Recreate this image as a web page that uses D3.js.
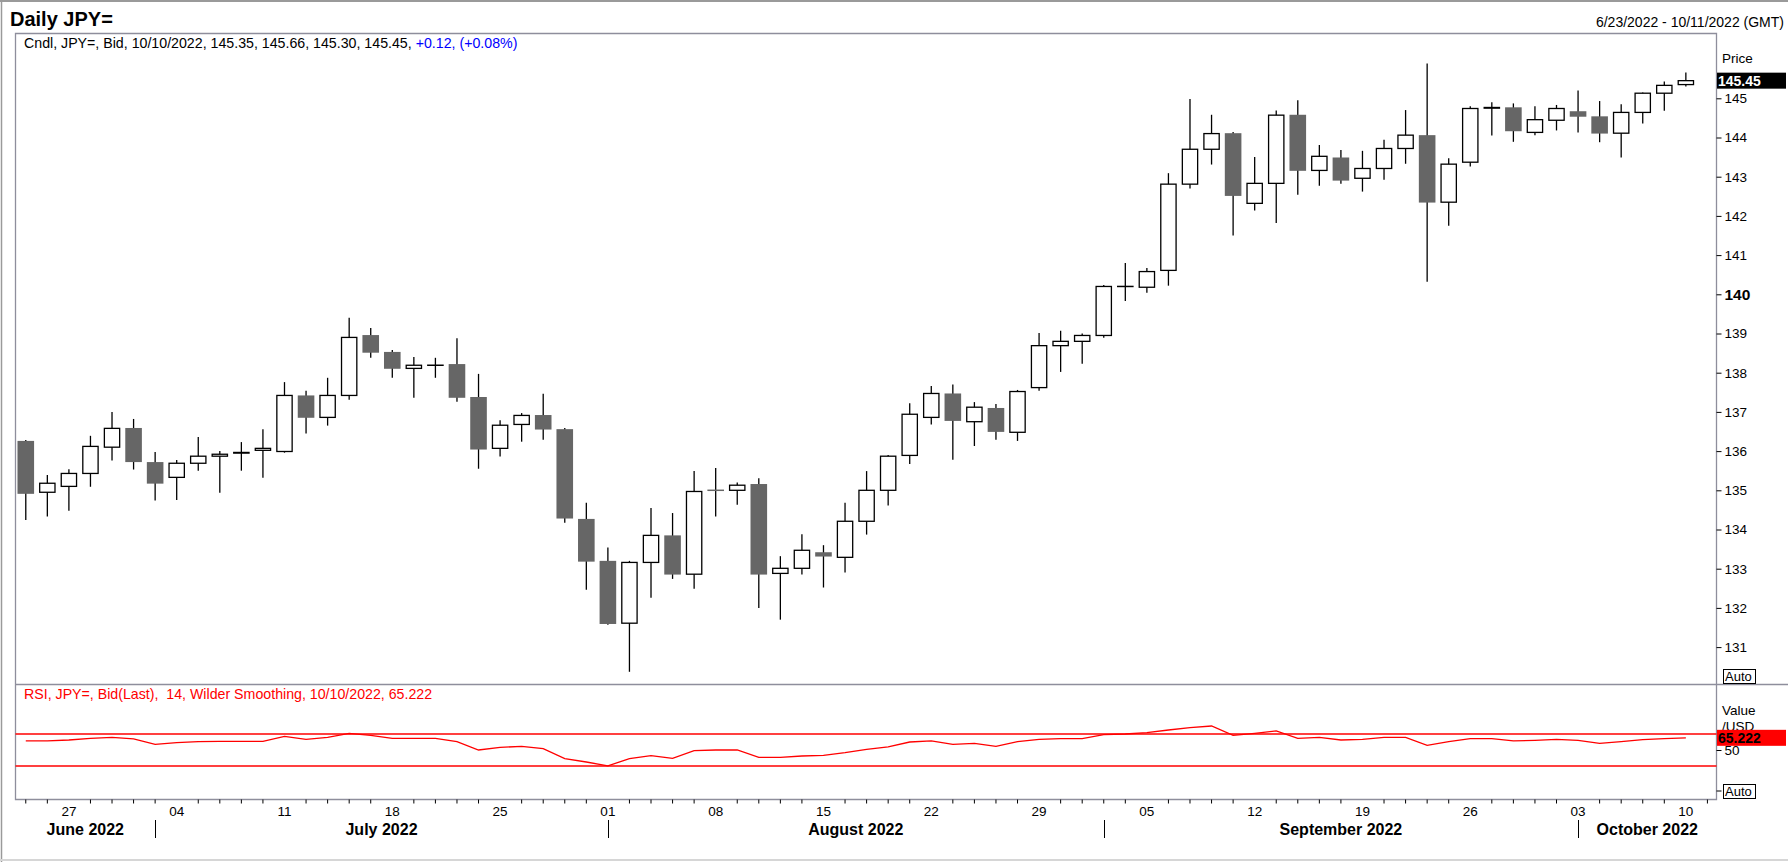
<!DOCTYPE html>
<html><head><meta charset="utf-8">
<script src="https://cdn.jsdelivr.net/npm/d3@7"></script>
<style>html,body{margin:0;padding:0;background:#fff;overflow:hidden}svg{display:block;font-family:"Liberation Sans",Arial,Helvetica,sans-serif}</style>
</head><body><svg id="c" width="1788" height="862"></svg>
<script>
// ---------- DATA ----------
const dates = ["2022-06-23","2022-06-24","2022-06-27","2022-06-28","2022-06-29","2022-06-30","2022-07-01",
"2022-07-04","2022-07-05","2022-07-06","2022-07-07","2022-07-08","2022-07-11","2022-07-12","2022-07-13","2022-07-14","2022-07-15",
"2022-07-18","2022-07-19","2022-07-20","2022-07-21","2022-07-22","2022-07-25","2022-07-26","2022-07-27","2022-07-28","2022-07-29",
"2022-08-01","2022-08-02","2022-08-03","2022-08-04","2022-08-05","2022-08-08","2022-08-09","2022-08-10","2022-08-11","2022-08-12",
"2022-08-15","2022-08-16","2022-08-17","2022-08-18","2022-08-19","2022-08-22","2022-08-23","2022-08-24","2022-08-25","2022-08-26",
"2022-08-29","2022-08-30","2022-08-31","2022-09-01","2022-09-02","2022-09-05","2022-09-06","2022-09-07","2022-09-08","2022-09-09",
"2022-09-12","2022-09-13","2022-09-14","2022-09-15","2022-09-16","2022-09-19","2022-09-20","2022-09-21","2022-09-22","2022-09-23",
"2022-09-26","2022-09-27","2022-09-28","2022-09-29","2022-09-30","2022-10-03","2022-10-04","2022-10-05","2022-10-06","2022-10-07",
"2022-10-10"];
const extraSlots = ["2022-10-11"];
const open = [136.26,134.95,135.10,135.43,136.10,136.59,135.72,135.33,135.69,135.87,
135.97,136.02,135.99,137.42,136.86,137.42,138.96,138.53,138.11,138.19,
138.22,137.38,136.07,136.68,136.92,136.56,134.27,133.20,131.61,133.16,
133.85,132.86,135.00,135.00,135.16,132.88,133.01,133.42,133.29,134.21,
135.00,135.89,136.86,137.47,136.75,137.10,136.48,137.62,138.69,138.80,
138.95,140.20,140.18,140.61,142.81,143.70,144.11,142.32,142.83,144.58,
143.16,143.49,142.96,143.21,143.72,144.06,142.35,143.37,144.77,144.77,
144.13,144.44,144.67,144.54,144.11,144.64,145.13,145.35];
const high = [136.28,135.39,135.54,136.39,137.00,136.82,135.98,135.77,136.36,136.00,
136.23,136.56,137.76,137.54,137.87,139.40,139.14,138.58,138.40,138.38,
138.88,137.97,136.79,136.97,137.46,136.59,134.68,133.54,133.20,134.55,
134.42,135.49,135.57,135.20,135.31,133.32,133.88,133.60,134.68,135.49,
135.90,137.22,137.66,137.70,137.25,137.20,137.56,139.01,139.07,139.00,
140.24,140.80,140.67,143.09,144.98,144.58,144.14,143.50,144.69,144.95,
143.81,143.68,143.66,143.94,144.70,145.89,143.47,144.80,144.90,144.87,
144.80,144.83,145.20,144.93,144.85,145.15,145.43,145.66];
const low = [134.24,134.33,134.48,135.09,135.76,135.53,134.74,134.75,135.50,134.94,
135.50,135.32,135.96,136.45,136.65,137.31,138.38,137.87,137.36,137.87,
137.26,135.55,135.86,136.24,136.29,134.17,132.46,131.57,130.37,132.26,
132.74,132.49,134.33,134.63,132.00,131.70,132.85,132.52,132.90,133.87,
134.61,135.67,136.68,135.78,136.13,136.29,136.26,137.54,138.02,138.23,
138.89,139.83,140.04,140.22,142.70,143.31,141.50,142.14,141.82,142.54,
142.77,142.82,142.62,142.92,143.33,140.32,141.75,143.26,144.05,143.89,
144.06,144.18,144.13,143.88,143.49,144.36,144.68,145.30];
const close = [134.91,135.18,135.43,136.12,136.58,135.72,135.17,135.69,135.87,135.92,
135.94,136.07,137.42,136.85,137.42,138.90,138.51,138.10,138.19,138.19,
137.36,136.04,136.66,136.91,136.55,134.28,133.18,131.59,133.16,133.85,
132.85,134.97,134.99,135.13,132.85,133.01,133.47,133.31,134.21,135.00,
135.87,136.94,137.47,136.77,137.12,136.49,137.52,138.69,138.80,138.95,
140.20,140.20,140.58,142.81,143.70,144.10,142.51,142.83,144.57,143.15,
143.52,142.90,143.21,143.72,144.06,142.34,143.32,144.74,144.74,144.16,
144.455,144.74,144.53,144.10,144.64,145.13,145.33,145.45];
const rsi = [61.3,61.3,62.5,64.6,65.8,63.8,57.1,59.2,60.4,60.8,
60.8,60.8,67.1,63.3,65.8,70.8,68.3,64.6,64.6,64.6,
60.4,50.0,53.3,54.6,51.7,39.2,35.0,30.2,39.2,42.9,
39.6,49.2,50.0,50.0,40.8,40.8,42.5,43.3,46.7,50.8,
53.8,60.0,61.3,57.1,58.3,54.6,60.4,63.3,64.2,64.2,
69.2,70.0,71.7,75.0,77.9,80.0,68.3,70.8,73.8,64.6,
65.8,62.5,63.3,65.8,65.8,55.8,60.4,64.2,64.2,61.3,
62.1,63.3,62.1,58.3,60.4,62.9,64.2,65.222];
const rsiLevels = [70, 30];
const priceTicks = [131,132,133,134,135,136,137,138,139,140,141,142,143,144,145];
const boldPriceTick = 140;
const weekDates = ["2022-06-27","2022-07-04","2022-07-11","2022-07-18","2022-07-25","2022-08-01","2022-08-08","2022-08-15",
"2022-08-22","2022-08-29","2022-09-05","2022-09-12","2022-09-19","2022-09-26","2022-10-03","2022-10-10"];
const weekLabels = ["27","04","11","18","25","01","08","15","22","29","05","12","19","26","03","10"];
const monthStarts = ["2022-07-01","2022-08-01","2022-09-01","2022-10-03"];
const monthLabels = ["June 2022","July 2022","August 2022","September 2022","October 2022"];
const titleText = "Daily JPY=";
const rangeText = "6/23/2022 - 10/11/2022 (GMT)";
const instrument = "JPY=";
const rsiPeriod = 14;

// ---------- LAYOUT ----------
const svg = d3.select("#c");
const L = 15.5, R = 1716.5, T = 33.5, SEP = 684.5, B = 799.5;
const FONT = '"Liberation Sans",Arial,sans-serif';
const axisDates = dates.concat(extraSlots);
const x = d3.scaleBand().domain(axisDates).range([15, 1718.2]).padding(0);
const cx = d => x(d) + x.bandwidth() / 2;
const yP = d3.scaleLinear().domain([131, 145]).range([647.1, 98.3]);
const yR = d3.scaleLinear().domain([30, 70]).range([766, 734]);
const bw = x.bandwidth() * 0.77;

// outer frame
svg.append("line").attr("x1",0).attr("x2",1788).attr("y1",1).attr("y2",1).attr("stroke","#9a9a9a").attr("stroke-width",2);
svg.append("line").attr("x1",1.5).attr("x2",1.5).attr("y1",0).attr("y2",862).attr("stroke","#9a9a9a").attr("stroke-width",1.5);
svg.append("line").attr("x1",0).attr("x2",1788).attr("y1",860).attr("y2",860).attr("stroke","#d6d6d6").attr("stroke-width",2);

// header
svg.append("text").attr("x",10).attr("y",26).attr("font-size",20).attr("font-weight","bold").text(titleText);
svg.append("text").attr("x",1784).attr("y",27).attr("text-anchor","end").attr("font-size",14).text(rangeText);

// plot frame
const fc = "#8e8e9c";
svg.append("path").attr("d",`M${L},${T}H${R}V${B}H${L}Z`).attr("fill","none").attr("stroke",fc).attr("stroke-width",1.3);
svg.append("line").attr("x1",L).attr("x2",1788).attr("y1",SEP).attr("y2",SEP).attr("stroke",fc).attr("stroke-width",1.3);

// price axis
const pAxis = svg.append("g").attr("transform",`translate(${R},0)`)
  .call(d3.axisRight(yP).tickValues(priceTicks).tickSize(5).tickPadding(3).tickFormat(d3.format("d")));
pAxis.select(".domain").remove();
pAxis.selectAll(".tick line").attr("stroke","#000");
pAxis.selectAll(".tick text").attr("font-family",FONT).attr("font-size",13.5).attr("fill","#000")
  .filter(d => d === boldPriceTick).attr("font-weight","bold").attr("font-size",15.5);

// candles
const n = dates.length;
const cg = svg.append("g");
for (let i = 0; i < n; i++) {
  const d = dates[i], xc = cx(d);
  cg.append("line").attr("x1",xc).attr("x2",xc).attr("y1",yP(high[i])).attr("y2",yP(low[i]))
    .attr("stroke","#000").attr("stroke-width",1.3);
  const yo = yP(open[i]), yc = yP(close[i]);
  if (close[i] > open[i]) {
    cg.append("rect").attr("x",xc-bw/2+0.65).attr("width",bw-1.3).attr("y",yc).attr("height",Math.max(yo-yc,1))
      .attr("fill","#fff").attr("stroke","#000").attr("stroke-width",1.3);
  } else if (close[i] === open[i]) {
    cg.append("line").attr("x1",xc-bw/2).attr("x2",xc+bw/2).attr("y1",yo).attr("y2",yo).attr("stroke","#000").attr("stroke-width",1.5);
  } else {
    const h = yc - yo;
    if (h < 0.5) {
      cg.append("line").attr("x1",xc-bw/2).attr("x2",xc+bw/2).attr("y1",yo).attr("y2",yo).attr("stroke","#666").attr("stroke-width",1.5);
    } else if (h < 3) {
      cg.append("rect").attr("x",xc-bw/2).attr("width",bw).attr("y",yo-0.5).attr("height",Math.max(h,2)).attr("fill","#000");
    } else {
      cg.append("rect").attr("x",xc-bw/2).attr("width",bw).attr("y",yo).attr("height",h).attr("fill","#666666");
    }
  }
}

// candle legend
const li = n - 1;
const f2 = d3.format(".2f");
const chg = close[li] - close[li-1];
const leg = svg.append("text").attr("x",24).attr("y",48).attr("font-size",14.2);
leg.append("tspan").text(`Cndl, ${instrument}, Bid, 10/10/2022, ${f2(open[li])}, ${f2(high[li])}, ${f2(low[li])}, ${f2(close[li])}, `);
leg.append("tspan").attr("fill","#0000ff").text(`${chg>=0?"+":""}${f2(chg)}, (${chg>=0?"+":""}${f2(chg/close[li-1]*100)}%)`);

// price side labels
svg.append("text").attr("x",1722).attr("y",63).attr("font-size",13.5).text("Price");
svg.append("rect").attr("x",1717).attr("y",yP(close[li])-8).attr("width",69).attr("height",16).attr("fill","#000");
svg.append("text").attr("x",1718).attr("y",yP(close[li])+5).attr("font-size",14).attr("font-weight","bold").attr("fill","#fff").text(f2(close[li]));
function autoBox(yTop){
  svg.append("rect").attr("x",1723.5).attr("y",yTop).attr("width",32).attr("height",14).attr("fill","#fff").attr("stroke","#000").attr("stroke-width",1);
  svg.append("text").attr("x",1725).attr("y",yTop+11.5).attr("font-size",13).text("Auto");
}
autoBox(669.5);

// RSI panel
svg.append("g").selectAll("line").data(rsiLevels).join("line")
  .attr("x1",L).attr("x2",R).attr("y1",d=>yR(d)).attr("y2",d=>yR(d)).attr("stroke","#ff0000").attr("stroke-width",1.5);
const line = d3.line().x((d,i)=>cx(dates[i])).y(d=>yR(d));
svg.append("path").datum(rsi).attr("d",line).attr("fill","none").attr("stroke","#ff0000").attr("stroke-width",1.3);
svg.append("text").attr("x",24).attr("y",699).attr("font-size",14.2).attr("fill","#ff0000").style("white-space","pre")
  .text(`RSI, ${instrument}, Bid(Last),  ${rsiPeriod}, Wilder Smoothing, 10/10/2022, ${d3.format(".3f")(rsi[li])}`);
const rAxis = svg.append("g").attr("transform",`translate(${R},0)`)
  .call(d3.axisRight(yR).tickValues([50]).tickSize(5).tickPadding(3));
rAxis.select(".domain").remove();
rAxis.selectAll(".tick line").attr("stroke","#000");
rAxis.selectAll(".tick text").attr("font-family",FONT).attr("font-size",13.5).attr("fill","#000");
svg.append("text").attr("x",1722).attr("y",715).attr("font-size",13.5).text("Value");
svg.append("text").attr("x",1722).attr("y",731).attr("font-size",13.5).text("/USD");
svg.append("rect").attr("x",1717).attr("y",yR(rsi[li])-8).attr("width",69).attr("height",16).attr("fill","#ff0000");
svg.append("text").attr("x",1718).attr("y",yR(rsi[li])+5).attr("font-size",14).attr("font-weight","bold").attr("fill","#000").text(d3.format(".3f")(rsi[li]));
svg.append("line").attr("x1",R).attr("x2",R+5).attr("y1",791).attr("y2",791).attr("stroke","#000");
autoBox(784.5);

// x axis: minor day ticks
const minor = axisDates.filter(d => !weekDates.includes(d));
const xMinor = svg.append("g").attr("transform",`translate(0,${B})`)
  .call(d3.axisBottom(x).tickValues(minor).tickSize(4).tickFormat(""));
xMinor.select(".domain").remove();
xMinor.selectAll(".tick line").attr("stroke","#000");
const xLab = svg.append("g").attr("transform",`translate(0,${B})`)
  .call(d3.axisBottom(x).tickValues(weekDates).tickSize(0).tickPadding(7).tickFormat((d,i)=>weekLabels[i]));
xLab.select(".domain").remove();
xLab.selectAll(".tick text").attr("font-family",FONT).attr("font-size",13.5).attr("fill","#000");

// month separators + labels
svg.append("g").selectAll("line").data(monthStarts).join("line")
  .attr("x1",d=>Math.round(cx(d))+0.5).attr("x2",d=>Math.round(cx(d))+0.5).attr("y1",820).attr("y2",838)
  .attr("stroke","#000").attr("stroke-width",1);
const bounds = [L].concat(monthStarts.map(cx)).concat([R]);
svg.append("g").selectAll("text").data(monthLabels).join("text")
  .attr("x",(d,i)=>(bounds[i]+bounds[i+1])/2).attr("y",835).attr("text-anchor","middle")
  .attr("font-size",16).attr("font-weight","bold").text(d=>d);
</script></body></html>
